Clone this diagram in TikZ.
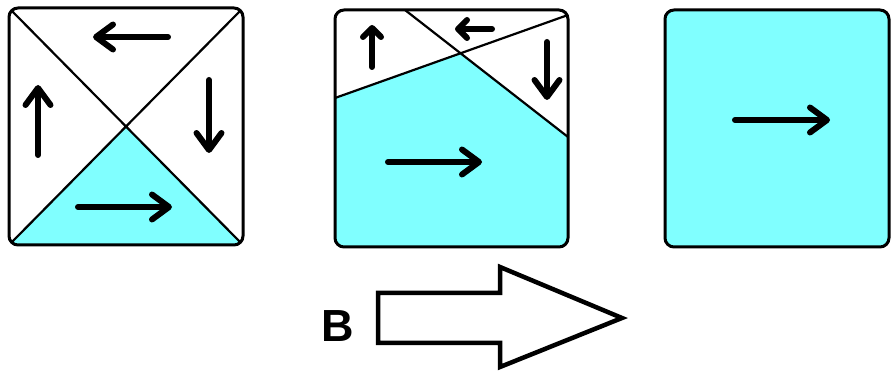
\documentclass[tikz,border=0pt]{standalone}
\usepackage{fontspec}
\setmainfont{Liberation Sans}
\usetikzlibrary{arrows.meta}
\definecolor{watercyan}{RGB}{128,255,255}

\begin{document}
\begin{tikzpicture}[x=1pt, y=-1pt,
    frame/.style={draw, line width=3pt, rounded corners=9pt},
    split/.style={line width=2.2pt},
    water/.style={fill=watercyan},
    flow/.style={line width=6pt, line cap=round, -{Straight Barb[length=17pt, width=25pt, round]}},
    smallflow/.style={flow, -{Straight Barb[length=9pt, width=18pt, round]}},
    bigarrow/.style={draw, line width=4.5pt, line join=miter}
]
\useasboundingbox (0,0) rectangle (892,371);

\begin{scope}
  \clip[rounded corners=9pt] (9,8) rectangle (243,245);
  \fill[water] (9,245) -- (126,126.5) -- (243,245) -- cycle;
  \draw[split] (9,8) -- (243,245) (243,8) -- (9,245);
\end{scope}
\draw[frame] (9,8) rectangle (243,245);

\draw[flow] (168,37) -- (93,37);
\draw[flow] (38,155) -- (38,85);
\draw[flow] (209,80) -- (209,153);
\draw[flow] (78,207) -- (172,207);

\begin{scope}
  \clip[rounded corners=9pt] (335,10) rectangle (568,247);
  \fill[water] (335,98) -- (460,53) -- (568,137) -- (568,247) -- (335,247) -- cycle;
  \draw[split] (405,10) -- (568,137) (335,98) -- (568,15);
\end{scope}
\draw[frame] (335,10) rectangle (568,247);

\draw[smallflow] (372,67) -- (372,25);
\draw[smallflow] (492,29) -- (455,29);
\draw[flow] (547,42) -- (547,100);
\draw[flow] (388,162) -- (482,162);

\draw[frame, water] (665,10) rectangle (889,247);
\draw[flow] (735,120) -- (830,120);

\node (lblB) [anchor=base west, inner sep=0pt, font=\fontsize{45}{45}\selectfont\bfseries] at (321,342) {B};
\draw[bigarrow] (378,293) -- (500,293) -- (500,267) -- (622,318) -- (500,367) -- (500,343) -- (378,343) -- cycle;

\end{tikzpicture}
\end{document}
